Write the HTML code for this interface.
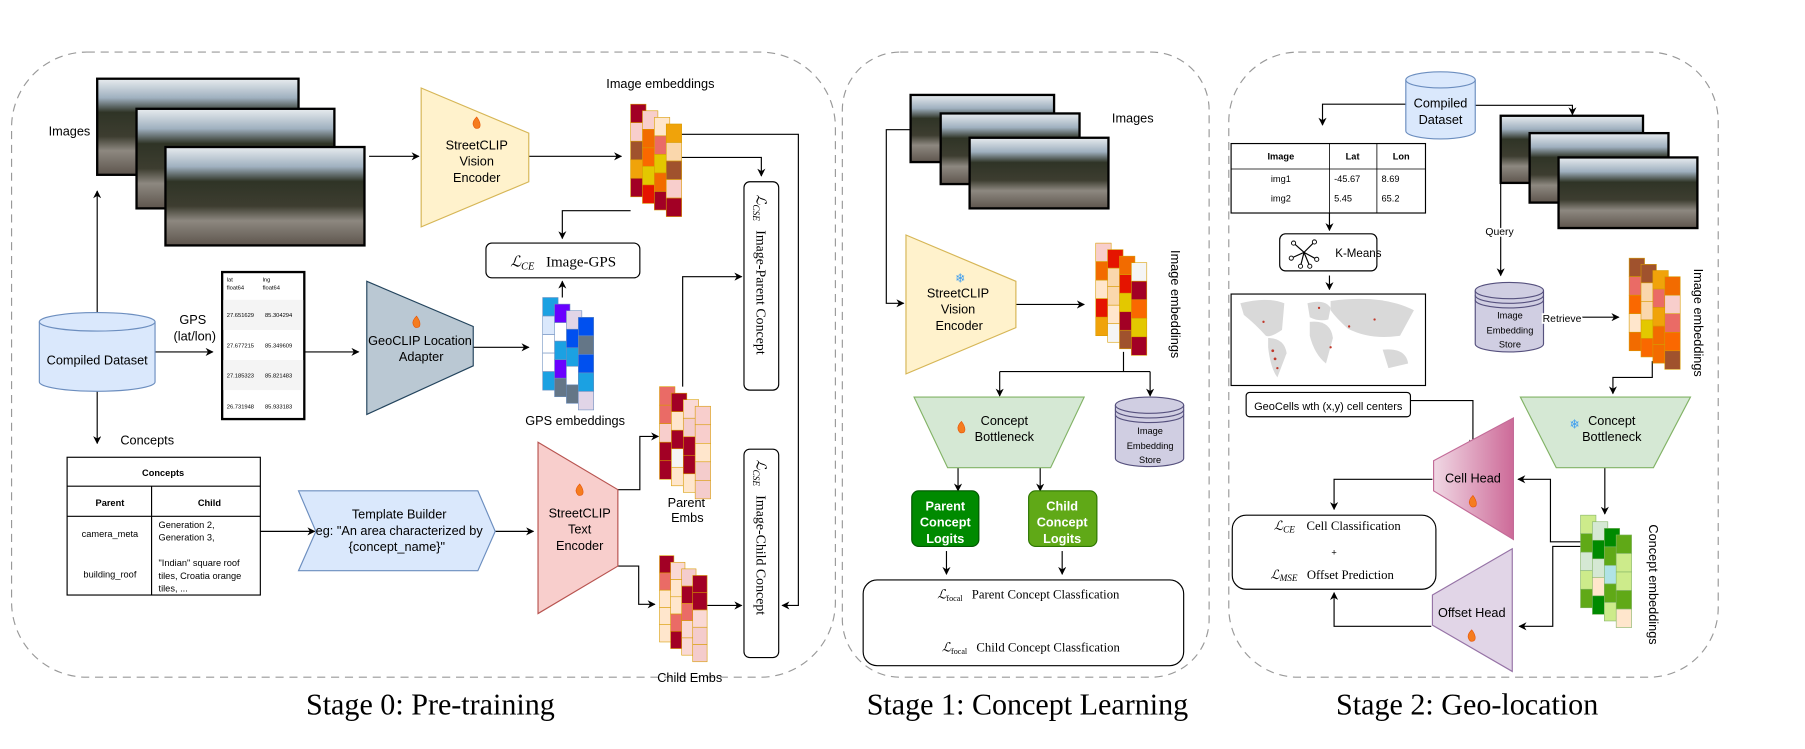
<!DOCTYPE html>
<html><head><meta charset="utf-8"><style>
html,body{margin:0;padding:0;background:#fff;}
svg{display:block;}
text{font-family:"Liberation Sans",sans-serif;fill:#000;}
.s{font-family:"Liberation Serif",serif;}
</style></head><body>
<svg id="g" width="1805" height="749" viewBox="0 0 1560 647" preserveAspectRatio="none" xmlns="http://www.w3.org/2000/svg">
<defs>
<marker id="a" viewBox="0 0 10 10" refX="9" refY="5" markerWidth="7" markerHeight="7" orient="auto"><path d="M0,0 L10,5 L0,10 L3,5 z" fill="#000"/></marker>
<linearGradient id="im" x1="0" y1="0" x2="0" y2="1">
<stop offset="0" stop-color="#e8ecef"/><stop offset="0.2" stop-color="#9fb0bf"/><stop offset="0.35" stop-color="#2f3426"/><stop offset="0.6" stop-color="#3d3d30"/><stop offset="0.75" stop-color="#8d8880"/><stop offset="1" stop-color="#5e554d"/></linearGradient>
<linearGradient id="ch" x1="0" y1="0" x2="1" y2="0"><stop offset="0" stop-color="#f0d8e4"/><stop offset="1" stop-color="#cd6a98"/></linearGradient>
</defs>
<g fill="none" stroke="#999" stroke-dasharray="7 5" stroke-width="1">
<rect x="10" y="45" width="712" height="540" rx="65"/>
<rect x="728" y="45" width="317" height="540" rx="50"/>
<rect x="1062" y="45" width="423" height="540" rx="60"/>
</g>
<text class="s" x="372" y="617" font-size="26" text-anchor="middle">Stage 0: Pre-training</text>
<text class="s" x="888" y="617" font-size="26" text-anchor="middle">Stage 1: Concept Learning</text>
<text class="s" x="1268" y="617" font-size="26" text-anchor="middle">Stage 2: Geo-location</text>

<g stroke="#000" stroke-width="2" fill="url(#im)">
<rect x="84" y="68" width="174" height="83"/><rect x="118" y="94" width="171" height="86"/><rect x="143" y="127" width="172" height="85"/>
<rect x="787" y="82" width="124" height="58"/><rect x="813" y="98" width="120" height="61"/><rect x="838" y="119" width="120" height="61"/>
<rect x="1297" y="100" width="123" height="58"/><rect x="1322" y="115" width="120" height="60"/><rect x="1347" y="136" width="120" height="61"/>
</g>
<g font-size="11">
<text x="42" y="117">Images</text>
<text x="961" y="106">Images</text>
<text x="524" y="76">Image embeddings</text>
<text x="155" y="280">GPS</text><text x="150" y="294">(lat/lon)</text>
<text x="454" y="367">GPS embeddings</text>
<text x="104" y="384">Concepts</text>
<text x="577" y="438">Parent</text><text x="580" y="451">Embs</text>
<text x="568" y="589">Child Embs</text>
</g>

<g fill="none" stroke="#000" stroke-width="1">
<path d="M319,135 H362" marker-end="url(#a)"/>
<path d="M457,135 H537" marker-end="url(#a)"/>
<path d="M588,116 H690 V523 H676" marker-end="url(#a)"/>
<path d="M588,136 H658 V152" marker-end="url(#a)"/>
<path d="M545,182 H486 V206" marker-end="url(#a)"/>
<path d="M486,257 V243" marker-end="url(#a)"/>
<path d="M84,270 V165" marker-end="url(#a)"/>
<path d="M134,304 H184" marker-end="url(#a)"/>
<path d="M263,304 H310" marker-end="url(#a)"/>
<path d="M409,300 H457" marker-end="url(#a)"/>
<path d="M84,338 V383" marker-end="url(#a)"/>
<path d="M225,459 H272" marker-end="url(#a)"/>
<path d="M428,459 H461" marker-end="url(#a)"/>
<path d="M534,423 H553 V377 H569" marker-end="url(#a)"/>
<path d="M590,334 V239 H641" marker-end="url(#a)"/>
<path d="M534,489 H552 V522 H566" marker-end="url(#a)"/>
<path d="M610,523 H641" marker-end="url(#a)"/>
<path d="M787,112 H766 V262 H781" marker-end="url(#a)"/>
<path d="M878,263 H937" marker-end="url(#a)"/>
<path d="M971,304 V321 M864,321 H994"/>
<path d="M864,321 V342" marker-end="url(#a)"/>
<path d="M994,321 V342" marker-end="url(#a)"/>
<path d="M828,404 V424" marker-end="url(#a)"/>
<path d="M899,404 V424" marker-end="url(#a)"/>
<path d="M818,476 V496" marker-end="url(#a)"/>
<path d="M918,476 V496" marker-end="url(#a)"/>
<path d="M1215,90 H1143 V108" marker-end="url(#a)"/>
<path d="M1275,91 H1359 V99" marker-end="url(#a)"/>
<path d="M1149,184 V199" marker-end="url(#a)"/>
<path d="M1149,238 V250" marker-end="url(#a)"/>
<path d="M1297,158 V238" marker-end="url(#a)"/>
<path d="M1334,274 H1399" marker-end="url(#a)"/>
<path d="M1428,312 V326 H1394 V340" marker-end="url(#a)"/>
<path d="M1219,346 H1273 V386" marker-end="url(#a)"/>
<path d="M1387,404 V444" marker-end="url(#a)"/>
<path d="M1366,468 H1340 V414 H1312" marker-end="url(#a)"/>
<path d="M1366,472 H1342 V541 H1313" marker-end="url(#a)"/>
<path d="M1238,414 H1153 V440" marker-end="url(#a)"/>
<path d="M1237,541 H1153 V512" marker-end="url(#a)"/>
</g>

<path d="M364,76 L457,115 L457,157 L364,196 Z" fill="#fff2cc" stroke="#d6b656"/>
<g font-size="11" text-anchor="middle"><text x="412" y="129">StreetCLIP</text><text x="412" y="143">Vision</text><text x="412" y="157">Encoder</text></g>
<path d="M317,243 L409,282 L409,316 L317,358 Z" fill="#bac8d3" stroke="#23445d"/>
<g font-size="11" text-anchor="middle"><text x="363" y="298">GeoCLIP Location</text><text x="364" y="312">Adapter</text></g>
<path d="M465,382 L534,423 L534,489 L465,530 Z" fill="#f8cecc" stroke="#b85450"/>
<g font-size="11" text-anchor="middle"><text x="501" y="447">StreetCLIP</text><text x="501" y="461">Text</text><text x="501" y="475">Encoder</text></g>
<path d="M783,203 L878,243 L878,283 L783,323 Z" fill="#fff2cc" stroke="#d6b656"/>
<g font-size="11" text-anchor="middle"><text x="828" y="257">StreetCLIP</text><text x="828" y="271">Vision</text><text x="829" y="285">Encoder</text></g>
<path d="M790,343 L937,343 L908,404 L819,404 Z" fill="#d5e8d4" stroke="#82b366"/>
<g font-size="11" text-anchor="middle"><text x="868" y="367">Concept</text><text x="868" y="381">Bottleneck</text></g>
<path d="M1314,343 L1461,343 L1429,404 L1345,404 Z" fill="#d5e8d4" stroke="#82b366"/>
<g font-size="11" text-anchor="middle"><text x="1393" y="367">Concept</text><text x="1393" y="381">Bottleneck</text></g>
<path d="M1239,398 L1308,361 L1308,466 L1239,424 Z" fill="url(#ch)" stroke="#c36b98"/>
<text x="1273" y="417" font-size="11" text-anchor="middle">Cell Head</text>
<path d="M1238,514 L1307,474 L1307,580 L1238,540 Z" fill="#e1d5e7" stroke="#9673a6"/>
<text x="1272" y="533" font-size="11" text-anchor="middle">Offset Head</text>

<g fill="#f57c1f" stroke="#e65100" stroke-width="0.5">
<path d="M412,101 q-4,4 -3,7 q1,3 3,3 q3,0 3,-3 q0,-3 -3,-7z"/>
<path d="M360,273 q-4,4 -3,7 q1,3 3,3 q3,0 3,-3 q0,-3 -3,-7z"/>
<path d="M501,418 q-4,4 -3,7 q1,3 3,3 q3,0 3,-3 q0,-3 -3,-7z"/>
<path d="M831,364 q-4,4 -3,7 q1,3 3,3 q3,0 3,-3 q0,-3 -3,-7z"/>
<path d="M1273,428 q-4,4 -3,7 q1,3 3,3 q3,0 3,-3 q0,-3 -3,-7z"/>
<path d="M1272,544 q-4,4 -3,7 q1,3 3,3 q3,0 3,-3 q0,-3 -3,-7z"/>
</g>
<text x="830" y="244" font-size="11" text-anchor="middle" style="fill:#3b9cf0">❄</text>
<text x="1361" y="370" font-size="11" text-anchor="middle" style="fill:#3b9cf0">❄</text>

<g stroke-width="1">
<path d="M34,278 V330 A50,8 0 0 0 134,330 V278" fill="#dae8fc" stroke="#6c8ebf"/><ellipse cx="84" cy="278" rx="50" ry="8" fill="#dae8fc" stroke="#6c8ebf"/>
<path d="M1215,69 V113 A30,7 0 0 0 1275,113 V69" fill="#dae8fc" stroke="#6c8ebf"/><ellipse cx="1245" cy="69" rx="30" ry="7" fill="#dae8fc" stroke="#6c8ebf"/>
<path d="M964,350 V396 A29.5,7 0 0 0 1023,396 V350" fill="#d0cee2" stroke="#56517e"/><ellipse cx="993.5" cy="350" rx="29.5" ry="7" fill="#d0cee2" stroke="#56517e"/>
<path d="M964,354 A29.5,7 0 0 0 1023,354 M964,358 A29.5,7 0 0 0 1023,358" fill="none" stroke="#56517e"/>
<path d="M1275,251 V297 A29.5,7 0 0 0 1334,297 V251" fill="#d0cee2" stroke="#56517e"/><ellipse cx="1304.5" cy="251" rx="29.5" ry="7" fill="#d0cee2" stroke="#56517e"/>
<path d="M1275,255 A29.5,7 0 0 0 1334,255 M1275,259 A29.5,7 0 0 0 1334,259" fill="none" stroke="#56517e"/>
</g>
<text x="84" y="315" font-size="11" text-anchor="middle">Compiled Dataset</text>
<g font-size="11" text-anchor="middle"><text x="1245" y="93">Compiled</text><text x="1245" y="107">Dataset</text></g>
<g font-size="8" text-anchor="middle"><text x="994" y="375">Image</text><text x="994" y="388">Embedding</text><text x="994" y="400">Store</text>
<text x="1305" y="275">Image</text><text x="1305" y="288">Embedding</text><text x="1305" y="300">Store</text></g>
<text x="1350" y="278" font-size="9" text-anchor="middle" style="paint-order:stroke" stroke="#fff" stroke-width="3">Retrieve</text>
<text x="1296" y="203" font-size="9" text-anchor="middle" style="paint-order:stroke" stroke="#fff" stroke-width="3">Query</text>

<rect x="192" y="235" width="71" height="127" fill="#fff" stroke="#000" stroke-width="2"/>
<g fill="#f4f4f4"><rect x="193" y="259" width="69" height="26"/><rect x="193" y="311" width="69" height="26"/></g>
<g font-family="Liberation Mono" font-size="5" style="fill:#666"><text x="196" y="243" style="fill:#000">lat</text><text x="227" y="243" style="fill:#000">lng</text><text x="196" y="250">float64</text><text x="227" y="250">float64</text>
<text x="196" y="274">27.651629</text><text x="229" y="274">85.304294</text><text x="196" y="300">27.677215</text><text x="229" y="300">85.349609</text><text x="196" y="326">27.185323</text><text x="229" y="326">85.821483</text><text x="196" y="353">26.731948</text><text x="229" y="353">85.933183</text></g>

<g fill="none" stroke="#000" stroke-width="1"><rect x="58" y="395" width="167" height="119"/><path d="M58,420 H225 M58,446 H225 M131,420 V514"/></g>
<g font-size="8"><text x="141" y="411" text-anchor="middle" font-weight="bold">Concepts</text>
<text x="95" y="437" text-anchor="middle" font-weight="bold">Parent</text><text x="181" y="437" text-anchor="middle" font-weight="bold">Child</text>
<text x="95" y="464" text-anchor="middle">camera_meta</text><text x="95" y="499" text-anchor="middle">building_roof</text>
<text x="137" y="456">Generation 2,</text><text x="137" y="467">Generation 3,</text>
<text x="137" y="489">"Indian" square roof</text><text x="137" y="500">tiles, Croatia orange</text><text x="137" y="511">tiles, ...</text></g>

<path d="M258,424 L413,424 L428,459 L413,493 L258,493 L273,459 Z" fill="#dae8fc" stroke="#6c8ebf"/>
<g font-size="11" text-anchor="middle"><text x="345" y="448">Template Builder</text><text x="345" y="462">eg: "An area characterized by</text><text x="343" y="476">{concept_name}"</text></g>

<g fill="#fff" stroke="#000" stroke-width="1">
<rect x="420" y="210" width="133" height="30" rx="5"/>
<rect x="643" y="157" width="30" height="180" rx="5"/>
<rect x="643" y="388" width="30" height="180" rx="5"/>
<rect x="746" y="501" width="277" height="74" rx="12"/>
<rect x="1065" y="445" width="176" height="64" rx="12"/>
<rect x="1077" y="339" width="142" height="21" rx="3"/>
<rect x="1106" y="202" width="84" height="32" rx="5"/>
</g>
<text class="s" x="441" y="230" font-size="13"><tspan font-style="italic">ℒ</tspan><tspan font-size="9" font-style="italic" dy="3">CE</tspan><tspan dy="-3" dx="10">Image-GPS</tspan></text>
<text class="s" font-size="12" transform="translate(654,168) rotate(90)"><tspan font-style="italic">ℒ</tspan><tspan font-size="8" font-style="italic" dy="3">CSE</tspan><tspan dy="-3" dx="8">Image-Parent Concept</tspan></text>
<text class="s" font-size="12" transform="translate(654,397) rotate(90)"><tspan font-style="italic">ℒ</tspan><tspan font-size="8" font-style="italic" dy="3">CSE</tspan><tspan dy="-3" dx="8">Image-Child Concept</tspan></text>
<text class="s" x="810" y="517" font-size="11"><tspan font-style="italic">ℒ</tspan><tspan font-size="7" dy="2">focal</tspan><tspan dy="-2" dx="8">Parent Concept Classfication</tspan></text>
<text class="s" x="814" y="563" font-size="11"><tspan font-style="italic">ℒ</tspan><tspan font-size="7" dy="2">focal</tspan><tspan dy="-2" dx="8">Child Concept Classfication</tspan></text>
<text class="s" x="1101" y="458" font-size="11"><tspan font-style="italic">ℒ</tspan><tspan font-size="8" font-style="italic" dy="2">CE</tspan><tspan dy="-2" dx="10">Cell Classification</tspan></text>
<text x="1153" y="480" font-size="8" text-anchor="middle">+</text>
<text class="s" x="1098" y="500" font-size="11"><tspan font-style="italic">ℒ</tspan><tspan font-size="8" font-style="italic" dy="2">MSE</tspan><tspan dy="-2" dx="8">Offset Prediction</tspan></text>
<text x="1148" y="354" font-size="9.5" text-anchor="middle">GeoCells wth (x,y) cell centers</text>
<text x="1154" y="222" font-size="10">K-Means</text>
<g stroke="#000" stroke-width="1"><path d="M1127,218 L1118,210 M1127,218 L1136,209 M1127,218 L1116,223 M1127,218 L1138,224 M1127,218 L1124,230 M1127,218 L1132,230"/></g>
<g fill="#fff" stroke="#000" stroke-width="0.8"><circle cx="1118" cy="210" r="1.8"/><circle cx="1136" cy="209" r="1.8"/><circle cx="1116" cy="223" r="1.8"/><circle cx="1138" cy="224" r="1.8"/><circle cx="1124" cy="230" r="1.8"/><circle cx="1132" cy="230" r="1.8"/></g>

<g fill="#fff" stroke="#000" stroke-width="1"><rect x="1064" y="124" width="168" height="60"/></g>
<path d="M1064,146 H1232 M1149,124 V184 M1190,124 V184" stroke="#000" stroke-width="0.7"/>
<g font-size="8"><text x="1107" y="138" text-anchor="middle" font-weight="bold">Image</text><text x="1169" y="138" text-anchor="middle" font-weight="bold">Lat</text><text x="1211" y="138" text-anchor="middle" font-weight="bold">Lon</text>
<text x="1107" y="157" text-anchor="middle">img1</text><text x="1153" y="157">-45.67</text><text x="1194" y="157">8.69</text>
<text x="1107" y="174" text-anchor="middle">img2</text><text x="1153" y="174">5.45</text><text x="1194" y="174">65.2</text></g>

<rect x="1064" y="254" width="168" height="79" fill="#fff" stroke="#000" stroke-width="1"/>
<g fill="#d9d9d9">
<path d="M1072,262 Q1095,256 1110,262 L1108,285 Q1098,292 1094,290 Q1085,280 1075,272 Z"/>
<path d="M1096,292 Q1110,292 1112,305 L1104,326 Q1098,318 1096,300 Z"/>
<path d="M1130,262 Q1145,258 1150,266 L1148,276 Q1140,278 1132,274 Z"/>
<path d="M1132,278 Q1150,276 1152,292 L1146,314 Q1136,306 1132,290 Z"/>
<path d="M1150,260 Q1195,254 1222,268 L1210,290 Q1185,294 1165,284 Q1155,275 1150,268 Z"/>
<path d="M1195,302 Q1215,300 1217,314 L1200,318 Z"/>
</g>
<g fill="#c0392b"><circle cx="1100" cy="303" r="1.2"/><circle cx="1102" cy="310" r="1.2"/><circle cx="1104" cy="318" r="1"/><circle cx="1140" cy="266" r="1"/><circle cx="1166" cy="282" r="1"/><circle cx="1188" cy="276" r="1"/><circle cx="1092" cy="278" r="1"/><circle cx="1150" cy="300" r="1"/></g>

<rect x="788" y="424" width="58" height="48" rx="6" fill="#008a00" stroke="#005700"/>
<rect x="889" y="424" width="59" height="48" rx="6" fill="#60a917" stroke="#2d7600"/>
<g font-size="11" text-anchor="middle" font-weight="bold"><text x="817" y="441" style="fill:#fff">Parent</text><text x="817" y="455" style="fill:#fff">Concept</text><text x="817" y="469" style="fill:#fff">Logits</text>
<text x="918" y="441" style="fill:#fff">Child</text><text x="918" y="455" style="fill:#fff">Concept</text><text x="918" y="469" style="fill:#fff">Logits</text></g>

<g font-size="11">
<text transform="translate(1012,216) rotate(90)">Image embeddings</text>
<text transform="translate(1464,232) rotate(90)">Image embeddings</text>
<text transform="translate(1425,453) rotate(90)">Concept embeddings</text>
</g>
<g id="stk"></g>
</svg>
<script>
(function(){
var g=document.getElementById('stk');var seed=7;function r(){seed=(seed*9301+49297)%233280;return seed/233280;}
var P={im:['#f26b00','#a0522d','#f0a30a','#ffe6cc','#e51400','#a20025','#f8cecc','#e3c800','#fad7ac','#ea6b66','#fa6800','#f5f5f5'],
gps:['#dae8fc','#1ba1e2','#0050ef','#6a00ff','#647687','#b1ddf0','#e1d5e7','#a9c4eb','#ffffff'],
pc:['#f8cecc','#a20025','#ea6b66','#ffe6cc','#f5f5f5','#f4cccc','#fad9d5','#a20025'],
ce:['#60a917','#008a00','#d5e8d4','#cdeb8b','#b0e3e6','#6d8764','#ffe6cc','#008a00']};
function stack(x,y,w,h,p){var cw=w/3.3,ch=cw*1.2,n=Math.round((h*0.82)/ch);
for(var c=0;c<4;c++){var cx=x+c*cw*0.77,cy=y+c*(h*0.18/3);for(var i=0;i<n;i++){var e=document.createElementNS('http://www.w3.org/2000/svg','rect');
e.setAttribute('x',cx);e.setAttribute('y',cy+i*ch);e.setAttribute('width',cw);e.setAttribute('height',ch);
e.setAttribute('fill',P[p][Math.floor(r()*P[p].length)]);e.setAttribute('stroke',p=='gps'?'#6c8ebf':(p=='ce'?'#82b366':'#d79b00'));e.setAttribute('stroke-width','0.5');g.appendChild(e);}}}
stack(545,90,44,95,'im');stack(469,257,44,95,'gps');stack(570,334,44,94,'pc');stack(570,480,41,95,'pc');
stack(947,210,44,94,'im');stack(1408,223,44,89,'im');stack(1366,445,44,95,'ce');
})();
</script>
</body></html>
